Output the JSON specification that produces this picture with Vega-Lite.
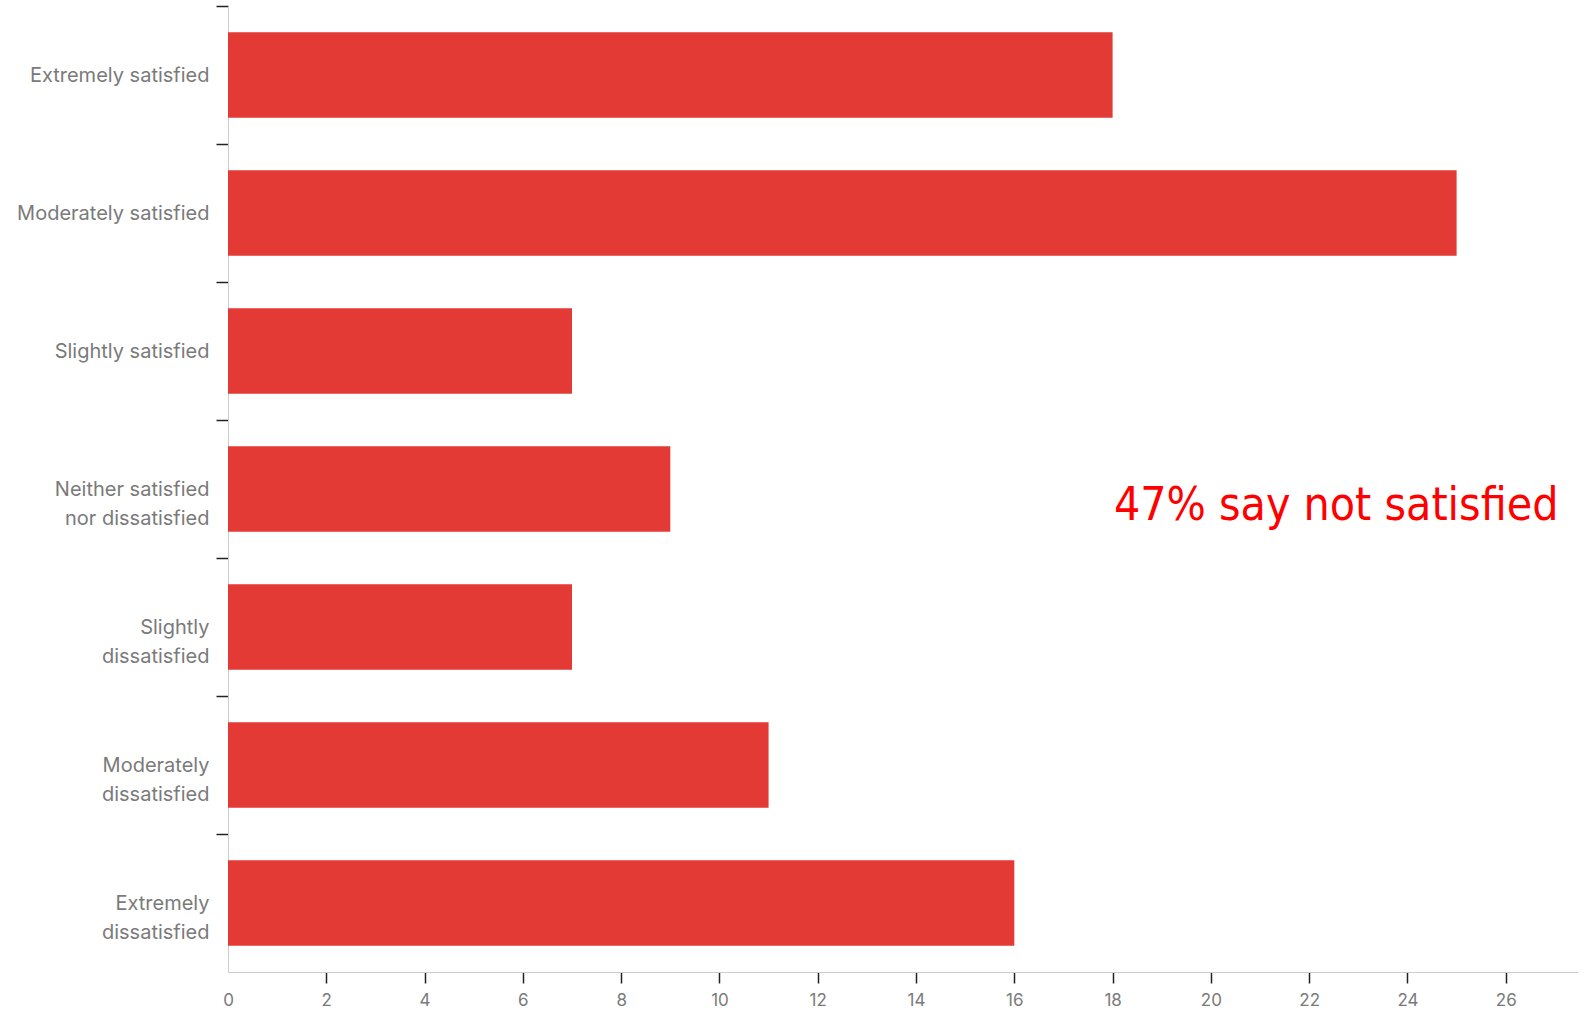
{
  "$schema": "https://vega.github.io/schema/vega-lite/v6.json",
  "width": 1350,
  "height": 966,
  "autosize": {"type": "none"},
  "padding": {"left": 228, "top": 6, "right": 11, "bottom": 43},
  "background": "white",
  "config": {"view": {"stroke": null}, "axis": {"grid": false}},
  "datasets": {
    "responses": [
      {"response": "Extremely satisfied", "count": 18},
      {"response": "Moderately satisfied", "count": 25},
      {"response": "Slightly satisfied", "count": 7},
      {"response": "Neither satisfied|nor dissatisfied", "count": 9},
      {"response": "Slightly|dissatisfied", "count": 7},
      {"response": "Moderately|dissatisfied", "count": 11},
      {"response": "Extremely|dissatisfied", "count": 16}
    ],
    "note": [
      {"response": "Neither satisfied|nor dissatisfied", "x": 22.55, "text": "47% say not satisfied"}
    ]
  },
  "layer": [
    {
      "data": {"name": "responses"},
      "mark": {"type": "bar", "color": "#e43a36"},
      "encoding": {
        "y": {
          "field": "response",
          "type": "nominal",
          "sort": ["Extremely satisfied", "Moderately satisfied", "Slightly satisfied", "Neither satisfied|nor dissatisfied", "Slightly|dissatisfied", "Moderately|dissatisfied", "Extremely|dissatisfied"],
          "scale": {"paddingInner": 0.38, "paddingOuter": 0.19},
          "axis": {
            "title": null,
            "tickOffset": -69,
            "labelOffset": 69,
            "tickSize": 12,
            "tickWidth": 1.5,
            "tickColor": "#222222",
            "domainColor": "#cccccc",
            "labelColor": "#7a7a7a",
            "labelFont": "Inter",
            "labelFontSize": 20,
            "labelPadding": 7,
            "labelLineHeight": 29,
            "labelLimit": 0,
            "labelExpr": "split(datum.value, '|')"
          }
        },
        "x": {
          "field": "count",
          "type": "quantitative",
          "scale": {"domain": [0, 27.47], "nice": false},
          "axis": {
            "title": null,
            "values": [0, 2, 4, 6, 8, 10, 12, 14, 16, 18, 20, 22, 24, 26],
            "tickSize": 11,
            "tickWidth": 1.5,
            "tickColor": "#222222",
            "tickOpacity": {"condition": {"test": "datum.value === 0", "value": 0}, "value": 1},
            "domainColor": "#cccccc",
            "labelColor": "#7a7a7a",
            "labelFont": "Inter",
            "labelFontSize": 17,
            "labelFlush": false,
            "labelPadding": 9
          }
        }
      }
    },
    {
      "data": {"name": "note"},
      "mark": {"type": "text", "color": "#ff0000", "font": "DejaVu Sans Condensed", "fontSize": 46, "align": "center", "baseline": "alphabetic", "dy": 31},
      "encoding": {
        "y": {
          "field": "response",
          "type": "nominal",
          "sort": ["Extremely satisfied", "Moderately satisfied", "Slightly satisfied", "Neither satisfied|nor dissatisfied", "Slightly|dissatisfied", "Moderately|dissatisfied", "Extremely|dissatisfied"]
        },
        "x": {"field": "x", "type": "quantitative"},
        "text": {"field": "text"}
      }
    }
  ]
}
